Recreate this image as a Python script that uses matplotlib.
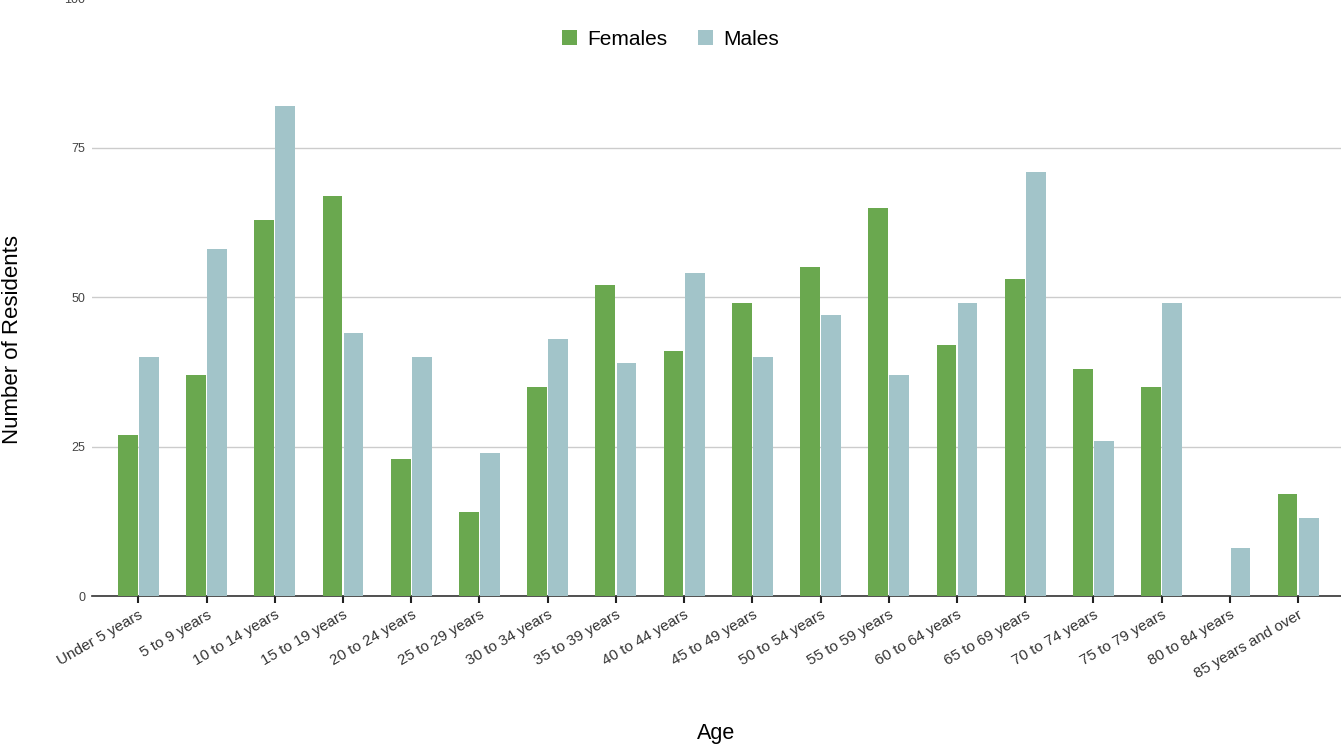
import numpy as np
import matplotlib.pyplot as plt

plt.rcParams['font.family'] = ['Liberation Sans', 'DejaVu Sans']

ages = ["Under 5 years", "5 to 9 years", "10 to 14 years", "15 to 19 years",
        "20 to 24 years", "25 to 29 years", "30 to 34 years", "35 to 39 years",
        "40 to 44 years", "45 to 49 years", "50 to 54 years", "55 to 59 years",
        "60 to 64 years", "65 to 69 years", "70 to 74 years", "75 to 79 years",
        "80 to 84 years", "85 years and over"]
females = [27, 37, 63, 67, 23, 14, 35, 52, 41, 49, 55, 65, 42, 53, 38, 35, 0, 17]
males = [40, 58, 82, 44, 40, 24, 43, 39, 54, 40, 47, 37, 49, 71, 26, 49, 8, 13]

fig = plt.figure(figsize=(13.41, 7.46), dpi=100)
ax = fig.add_axes([0.0686, 0.201, 0.935, 0.801])

x = np.arange(len(ages))
w = 0.29
ax.bar(x - w / 2 - 0.01, females, width=w, color="#6aa84f", label="Females", zorder=3)
ax.bar(x + w / 2 + 0.01, males, width=w, color="#a2c4c9", label="Males", zorder=3)

ax.set_xlim(-0.68, 17.7)
ax.set_ylim(0, 100)
ax.set_yticks([0, 25, 50, 75, 100])
ax.yaxis.grid(True, color="#cccccc", linewidth=1, zorder=0)
ax.set_axisbelow(True)
for s in ["top", "right", "left"]:
    ax.spines[s].set_visible(False)
ax.spines["bottom"].set_color("#333333")
ax.spines["bottom"].set_linewidth(1.2)
ax.tick_params(axis="y", length=0, labelsize=9, colors="#444444", pad=5)
ax.tick_params(axis="x", length=5, width=1.5, color="#222222", labelsize=11,
               labelcolor="#333333")
ax.set_xticks(x)
ax.set_xticklabels(ages, rotation=30, ha="right", rotation_mode="anchor")

fig.text(0.009, 0.545, "Number of Residents", fontsize=16, rotation=90,
         ha="center", va="center")
fig.text(0.534, 0.003, "Age", fontsize=15.5, ha="center", va="bottom")

fig.legend(loc="upper center", bbox_to_anchor=(0.5, 0.985), ncol=2, frameon=False,
           fontsize=15, handlelength=0.7, handleheight=0.7, columnspacing=1.5,
           handletextpad=0.5)

fig.savefig("out.png", dpi=100)
